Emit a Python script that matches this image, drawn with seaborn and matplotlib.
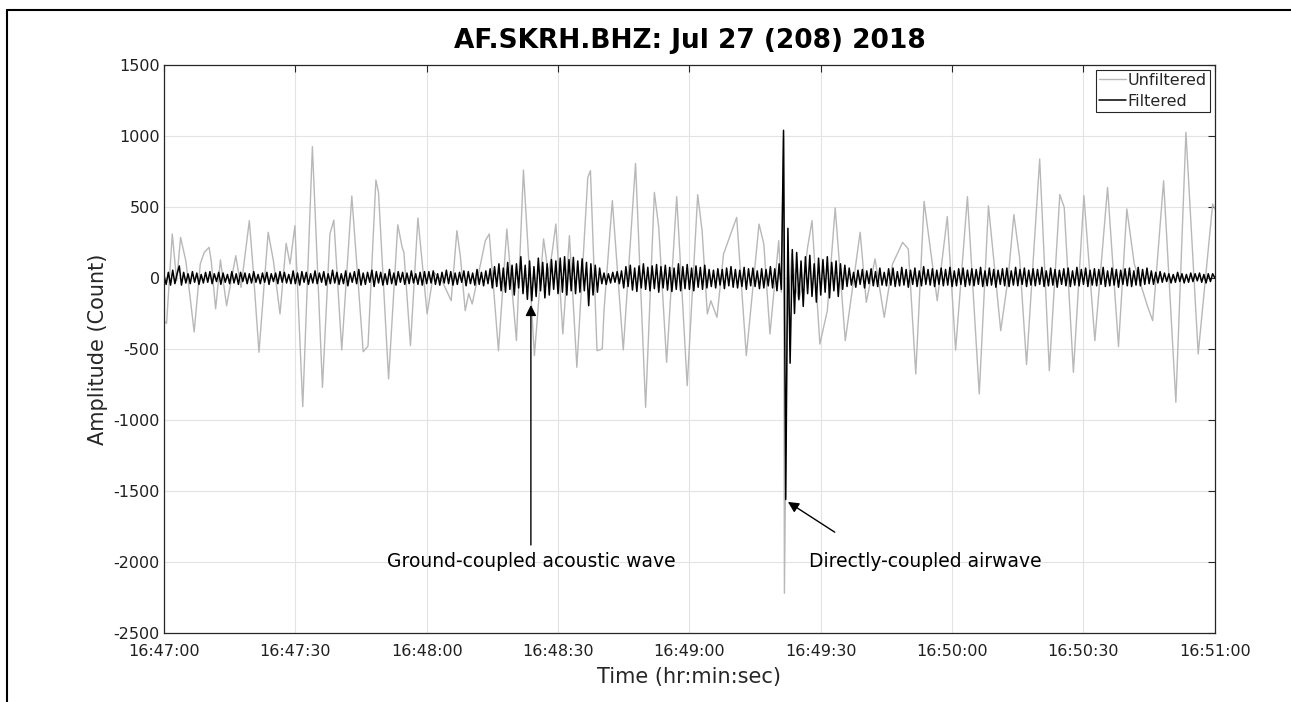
#!/usr/bin/env python3
"""
Seismogram plot: AF.SKRH.BHZ vertical channel, unfiltered vs filtered trace
with the ground-coupled acoustic wave and the directly-coupled airwave marked.
"""

import numpy as np
import pandas as pd
import matplotlib
matplotlib.use("Agg")
import matplotlib.pyplot as plt
from matplotlib.lines import Line2D
import seaborn as sns

# --- data (seconds after 16:47:00, counts) ---------------------------------

# unfiltered trace at its turning points
unf_time = [0.0, 0.6, 1.9, 2.9, 3.8, 5.0, 6.9, 8.3, 9.2, 10.3, 10.8, 11.8,
            12.9, 14.3, 16.4, 17.6, 19.5, 20.4, 21.7, 23.8, 25.0, 26.5, 27.9,
            28.8, 29.9, 31.7, 33.9, 36.2, 37.9, 38.8, 40.6, 42.9, 45.5, 46.6,
            48.4, 49.0, 51.3, 53.4, 54.4, 54.8, 56.3, 58.0, 60.1, 61.6, 63.5,
            65.6, 66.9, 67.7, 68.8, 69.6, 70.4, 73.4, 74.3, 76.4, 78.3, 80.5,
            82.1, 84.6, 86.7, 87.8, 88.6, 89.5, 91.1, 92.6, 94.3, 96.8, 97.4,
            98.9, 100.1, 100.5, 102.4, 104.9, 107.7, 110.0, 112.0, 113.0,
            114.8, 117.1, 119.5, 121.9, 122.9, 124.1, 124.9, 126.3, 127.8,
            130.8, 133.0, 135.9, 137.0, 138.4, 140.4, 141.0, 141.5, 141.7,
            142.3, 143.4, 144.3, 145.0, 146.0, 147.0, 148.0, 149.8, 151.5,
            153.3, 155.6, 159.0, 160.4, 162.4, 164.5, 166.4, 168.7, 170.0,
            171.7, 173.6, 176.6, 178.9, 180.8, 183.5, 186.2, 188.3, 191.1,
            192.8, 194.1, 195.4, 197.0, 200.0, 202.2, 204.6, 205.6, 207.7,
            210.1, 212.6, 215.5, 218.0, 219.9, 221.6, 222.8, 224.7, 225.8,
            228.3, 231.1, 233.4, 236.2, 239.5, 240.2]
unf_count = [-300, -320, 310, -20, 286, 120, -380, 100, 180, 216, 120, -218,
             127, -195, 157, -66, 404, 50, -523, 322, 120, -253, 244,
             99, 368, -906, 925, -770, 310, 408, -507, 577, -519, -480,
             690, 603, -711, 375, 216, 180, -476, 422, -253, 40, -20,
             -160, 333, 150, -230, -110, -183, 263, 310, -512, 345, -441,
             760, -547, 275, 30, 169, 380, -394, 298, -629, 709, 756,
             -512, -500, -230, 545, -507, 807, -911, 603, 357,
             -594, 573, -758, 587, 333, -253, -160, -277, 169,
             427, -547, 380, 239, -394, 263, -100, 1000, -2220,
             -347, 169, -66, -160, -20, 216, 404, -465, -230,
             493, -441, 322, -171, 134, -277, 99, 251, 204,
             -676, 540, -160, 432, -507, 573, -817, 509, -371,
             0, 446, 146, -610, 838, -652, 587, 498, -664,
             580, -441, 638, -483, 486, 99, -20, -206, -300,
             685, -875, 1026, -535, 521, 474]

# filtered trace, one value every half second
filt_dt = 0.5
filt_0_30 = [20, -45, 40, -50, 55, -40, 30, 85, -50, 40,
             -35, 30, -40, 45, -30, 35, -45, 25, -35, 40,
             -30, 45, -40, 30, -25, 40, -45, 35, -30, 25,
             -40, 45, -35, 30, -45, 40, -25, 35, -40, 30,
             -35, 45, -30, 25, -40, 35, -30, 40, -45, 30,
             -25, 35, -40, 45, -30, 40, -35, 25, -40, 50]
filt_30_60 = [-40, 35, -50, 45, -30, 40, -45, 30, -35, 50,
              -40, 35, -30, 45, -50, 30, -40, 55, -35, 40,
              -45, 30, -40, 50, -55, 35, -30, 45, -40, 60,
              -50, 35, -45, 40, -30, 55, -60, 45, -35, 40,
              -50, 30, -45, 60, -40, 35, -50, 45, -30, 40,
              -45, 35, -40, 50, -35, 30, -45, 40, -50, 45]
filt_60_90 = [-40, 45, -35, 50, -45, 30, -50, 40, -35, 55,
              -40, 45, -50, 35, -45, 40, -30, 50, -55, 45,
              -40, 35, -50, 60, -45, 40, -55, 50, -40, 65,
              -70, 80, -60, 100, -90, 70, -100, 110, -80, 90,
              -120, 100, -70, 150, -110, 90, -150, 120, -160, 80,
              -130, 140, -90, 110, -140, 100, -120, 130, -80, 120]
filt_90_120 = [-110, 140, -100, 150, -120, 130, -90, 145, -110, 120,
               -100, 135, -90, 110, -195, 100, -120, 90, -100, 70,
               -40, 35, -45, 30, -35, 40, -30, 45, -40, 50,
               -70, 80, -60, 90, -85, 70, -95, 85, -70, 100,
               -80, 75, -90, 85, -75, 95, -100, 80, -70, 90,
               -85, 75, -95, 70, -80, 100, -90, 80, -75, 95]
filt_120_165 = [-80, 70, -90, 85, -65, 75, -80, 90, -70, 60,
                -60, 55, -70, 65, -50, 60, -75, 70, -55, 80,
                -65, 60, -70, 55, -60, 75, -80, 65, -55, 70,
                -60, 50, -75, 65, -70, 60, -55, 80, -70, 65,
                -90, 100, -80, 1040, -1560, 350, -600, 200, -250, 180,
                -150, 120, -200, 150, -110, 160, -130, 100, -170, 140,
                -120, 130, -100, 150, -140, 110, -90, 120, -130, 100,
                -80, 90, -60, 70, -50, 40, -65, 55, -45, 60,
                -70, 50, -40, 65, -55, 45, -60, 70, -50, 40]
filt_165_228 = [-55, 65, -50, 70, -60, 45, -55, 75, -50, 60,
                -65, 55, -45, 70, -60, 50, -55, 80, -45, 60,
                -50, 65, -60, 55, -45, 70, -55, 60, -50, 75,
                -60, 50, -55, 65, -45, 70, -60, 55, -50, 65,
                -55, 60, -45, 75, -60, 50, -55, 70, -50, 60,
                -65, 55, -45, 65, -55, 70, -60, 50, -50, 75,
                -55, 60, -45, 70, -60, 55, -50, 65, -55, 60,
                -45, 75, -60, 50, -55, 70, -50, 60, -65, 55,
                -45, 65, -55, 70, -60, 50, -50, 75, -55, 60,
                -45, 70, -60, 55, -50, 65, -55, 60, -45, 75,
                -60, 50, -55, 70, -50, 60, -65, 55, -45, 65,
                -55, 70, -60, 50, -50, 75, -55, 60, -45, 70,
                -40, 50, -45, 40, -35, 45]
filt_228_240 = [-30, 35, -25, 30, -35, 25, -30, 40, -25, 30,
                -35, 25, -30, 35, -25, 30, -20, 35, -30, 25,
                -35, 30, -25, 30, 0]

x_ticks = [0, 30, 60, 90, 120, 150, 180, 210, 240]
x_tick_labels = ["16:47:00", "16:47:30", "16:48:00", "16:48:30", "16:49:00",
                 "16:49:30", "16:50:00", "16:50:30", "16:51:00"]
y_ticks = [-2500, -2000, -1500, -1000, -500, 0, 500, 1000, 1500]

# annotations: (label, arrow tip, arrow tail, text position)
ground_label = "Ground-coupled acoustic wave"
ground_tip = (83.8, -190)
ground_tail = (83.8, -1880)
ground_text = (83.8, -2000)
air_label = "Directly-coupled airwave"
air_tip = (142.5, -1577)
air_tail = (153.2, -1790)
air_text = (173.8, -2000)

AX_COLOR = "#262626"


def build_frames():
    """Put both traces in data frames"""
    unf = pd.DataFrame({"t": unf_time, "count": unf_count})
    filt_vals = (filt_0_30 + filt_30_60 + filt_60_90 + filt_90_120
                 + filt_120_165 + filt_165_228 + filt_228_240)
    filt = pd.DataFrame({"t": np.arange(len(filt_vals)) * filt_dt,
                         "count": filt_vals})
    return unf, filt


def main():
    sns.set_theme(style="whitegrid")
    plt.rcParams["font.family"] = ["DejaVu Sans"]
    plt.rcParams["axes.unicode_minus"] = False

    unf, filt = build_frames()

    fig = plt.figure(figsize=(12.91, 7.02), dpi=100)
    ax = fig.add_axes([0.127, 0.0983, 0.814, 0.8091])
    ax.set_facecolor("white")

    sns.lineplot(data=unf, x="t", y="count", ax=ax, color="#b8b8b8",
                 lw=1.0, estimator=None, sort=False, label="Unfiltered")
    sns.lineplot(data=filt, x="t", y="count", ax=ax, color="black",
                 lw=1.1, estimator=None, sort=False, label="Filtered")

    ax.set_xlim(0, 240)
    ax.set_ylim(-2500, 1500)
    ax.set_xticks(x_ticks)
    ax.set_xticklabels(x_tick_labels)
    ax.set_yticks(y_ticks)
    ax.set_yticklabels([str(v) for v in y_ticks])

    ax.grid(True, color="#e3e3e3", lw=0.8)
    for side in ax.spines.values():
        side.set_color(AX_COLOR)
        side.set_linewidth(0.9)
    ax.tick_params(direction="in", length=5, width=0.8, colors=AX_COLOR,
                   labelsize=11.5, top=True, right=True,
                   labelcolor="#202020")
    ax.tick_params(axis="x", pad=8)
    ax.tick_params(axis="y", pad=3)

    ax.set_title("AF.SKRH.BHZ: Jul 27 (208) 2018", fontsize=19,
                 fontweight="bold", color="black", pad=12)
    ax.set_xlabel("Time (hr:min:sec)", fontsize=15, color="#262626",
                  labelpad=6)
    ax.set_ylabel("Amplitude (Count)", fontsize=15, color="#262626",
                  labelpad=4)

    # arrows + labels
    arrow = dict(arrowstyle="-|>", color="black", lw=1.0,
                 mutation_scale=16, shrinkA=0, shrinkB=0)
    ax.annotate("", xy=ground_tip, xytext=ground_tail, arrowprops=arrow)
    ax.text(*ground_text, ground_label, ha="center", va="center",
            fontsize=13.5, color="black")
    ax.annotate("", xy=air_tip, xytext=air_tail, arrowprops=arrow)
    ax.text(*air_text, air_label, ha="center", va="center",
            fontsize=13.5, color="black")

    leg = ax.legend(loc="upper right", fontsize=11.5, frameon=True,
                    fancybox=False, framealpha=1, edgecolor=AX_COLOR,
                    borderaxespad=0.3, handlelength=1.7, handletextpad=0.1,
                    labelspacing=0.35, borderpad=0.2)
    leg.get_frame().set_linewidth(0.8)

    # page frame lines seen in the screenshot
    fig.add_artist(Line2D([0.0054, 1.0], [0.9858, 0.9858],
                          transform=fig.transFigure, color="black", lw=1.5))
    fig.add_artist(Line2D([0.0054, 0.0054], [0.0, 0.9858],
                          transform=fig.transFigure, color="black", lw=1.5))

    fig.savefig("out.png", dpi=100)


if __name__ == "__main__":
    main()
